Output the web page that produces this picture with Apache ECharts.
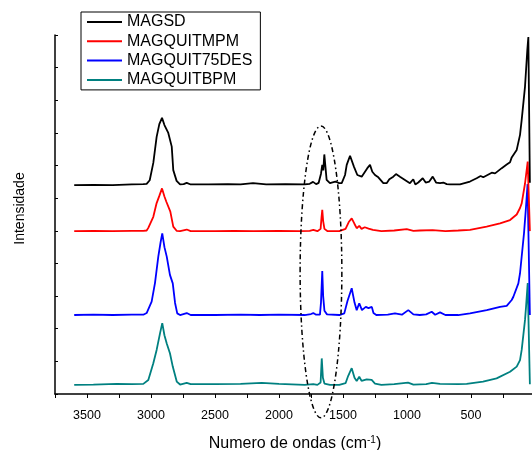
<!DOCTYPE html>
<html><head><meta charset="utf-8">
<script src="https://cdn.jsdelivr.net/npm/echarts@6/dist/echarts.min.js"></script>
<style>html,body{margin:0;padding:0;background:#fff}#c{width:532px;height:450px}</style>
</head><body><div id="c"></div>
<script>
const FONT = 'Liberation Sans, Arial, Helvetica, sans-serif';
const seriesNames = ['MAGSD', 'MAGQUITMPM', 'MAGQUIT75DES', 'MAGQUITBPM'];
const seriesColors = ['#000000', '#ff0000', '#0000ff', '#008080'];
const xTickLabels = [3500, 3000, 2500, 2000, 1500, 1000, 500];

// [wavenumber (cm-1), intensity (offset, arbitrary units)]
const magsd = [[3600,64.0],[3450,64.1],[3300,64.0],[3150,64.2],[3060,64.3],[3034,64.4],[3010,65.5],[2982,70.8],[2956,78.8],[2935,82.7],[2914,84.6],[2895,82.4],[2865,80.0],[2838,75.8],[2826,68.6],[2800,65.3],[2773,64.2],[2745,64.3],[2721,64.7],[2690,64.2],[2550,64.2],[2400,64.3],[2300,64.2],[2203,64.6],[2100,64.2],[1950,64.3],[1800,64.2],[1760,64.4],[1734,65.0],[1710,64.3],[1690,64.7],[1672,67.5],[1662,70.2],[1654,68.5],[1646,73.4],[1638,70.0],[1628,65.6],[1602,64.6],[1560,65.1],[1530,64.6],[1510,64.6],[1484,67.1],[1471,70.2],[1445,73.0],[1414,69.6],[1388,67.1],[1354,66.6],[1341,67.1],[1310,69.2],[1289,70.2],[1271,68.1],[1250,67.1],[1224,66.4],[1211,66.8],[1185,64.6],[1159,64.6],[1138,65.8],[1107,66.6],[1086,67.4],[1055,66.6],[1016,65.6],[977,64.6],[951,65.8],[935,64.2],[912,64.8],[877,66.1],[854,64.8],[826,65.1],[799,66.6],[773,64.8],[742,64.6],[716,64.8],[690,64.3],[664,64.2],[586,64.2],[508,65.1],[456,66.1],[425,66.8],[404,66.4],[338,67.8],[312,67.6],[260,69.2],[221,70.3],[195,71.0],[182,72.5],[160,73.8],[143,74.8],[117,79.4],[104,84.0],[78,94.2],[60,105.4],[52,109.4],[40,64.7]];
const magquitmpm = [[3600,49.9],[3450,50.0],[3300,49.9],[3150,50.0],[3060,50.0],[3034,50.1],[3021,50.9],[2982,54.3],[2956,58.5],[2935,60.7],[2914,63.0],[2895,60.5],[2880,58.9],[2849,55.9],[2826,51.3],[2800,50.0],[2773,49.9],[2721,50.4],[2690,49.9],[2500,49.9],[2350,50.0],[2200,49.9],[2000,50.0],[1850,49.9],[1760,50.0],[1732,50.3],[1700,49.9],[1675,50.6],[1668,54.0],[1662,56.4],[1655,53.0],[1645,50.6],[1620,49.9],[1529,49.9],[1480,50.6],[1455,52.7],[1432,53.8],[1410,52.1],[1393,50.8],[1373,51.5],[1355,50.6],[1330,51.1],[1300,50.7],[1289,51.1],[1266,50.3],[1200,49.9],[1100,50.1],[1002,50.5],[950,50.0],[900,50.1],[800,50.2],[700,49.9],[600,50.1],[508,50.3],[378,51.3],[273,52.3],[195,53.3],[143,55.0],[117,57.0],[104,58.4],[78,64.5],[57,71.2],[40,49.9]];
const magquit75des = [[3600,24.2],[3450,24.3],[3300,24.2],[3150,24.3],[3060,24.3],[3034,24.8],[2995,28.3],[2969,34.0],[2943,42.1],[2925,46.5],[2912,49.2],[2895,45.0],[2877,42.1],[2852,36.5],[2830,33.9],[2812,27.9],[2795,24.7],[2773,24.2],[2721,24.8],[2690,24.2],[2500,24.2],[2300,24.3],[2150,24.2],[2000,24.3],[1800,24.2],[1750,24.5],[1732,24.8],[1710,24.3],[1680,24.3],[1672,28.0],[1662,37.7],[1655,30.0],[1645,25.5],[1625,24.4],[1529,24.2],[1490,24.7],[1465,28.5],[1432,32.4],[1410,28.0],[1393,25.7],[1373,27.8],[1352,25.7],[1322,26.7],[1301,26.3],[1275,26.7],[1262,24.8],[1240,24.2],[1150,24.3],[1094,24.7],[1040,24.3],[990,25.7],[950,24.4],[900,24.2],[850,24.4],[807,25.2],[780,24.3],[742,25.0],[700,24.2],[600,24.2],[508,24.7],[377,25.7],[273,26.7],[221,27.0],[182,28.8],[169,29.8],[130,33.9],[117,37.0],[86,49.2],[70,57.4],[58,64.3],[40,24.2]];
const magquitbpm = [[3600,2.8],[3450,2.9],[3268,3.1],[3150,3.0],[3060,3.1],[3021,4.3],[2982,9.4],[2956,13.5],[2930,18.5],[2912,21.7],[2895,18.0],[2877,15.5],[2852,12.5],[2830,8.4],[2799,3.8],[2773,2.9],[2721,3.4],[2690,3.0],[2500,3.0],[2300,3.1],[2135,3.4],[2000,3.1],[1800,2.8],[1732,3.0],[1700,2.8],[1675,3.5],[1666,10.9],[1657,5.0],[1645,3.2],[1602,2.8],[1529,2.8],[1480,3.3],[1460,5.5],[1432,7.9],[1410,5.0],[1393,4.0],[1373,5.3],[1355,4.0],[1315,4.5],[1276,4.3],[1250,3.2],[1200,2.8],[1100,3.0],[992,3.5],[950,2.9],[850,3.0],[805,3.4],[742,3.1],[600,3.0],[534,3.1],[406,3.8],[300,4.8],[195,6.8],[143,8.4],[117,10.4],[104,13.5],[78,22.7],[70,26.7],[57,34.0],[40,3.0]];
const seriesData = [magsd, magquitmpm, magquit75des, magquitbpm];

// dash-dot ellipse annotation around the ~1660 cm-1 band (data units)
const ellipseCenter = [1672, 37.4];
const ellipseHalfWidth = 163;
const ellipseHalfHeight = 44.7;

const chart = echarts.init(document.getElementById('c'), null, {renderer: 'canvas'});
chart.setOption({
  animation: false,
  backgroundColor: '#fff',
  textStyle: {fontFamily: FONT},
  grid: {left: 55, right: -3, top: 35, bottom: 56, containLabel: false, outerBoundsMode: 'none'},
  legend: {
    orient: 'vertical', left: 81, top: 12,
    itemWidth: 35, itemHeight: 14, itemGap: 3.3,
    padding: [2, 8, 2, 5],
    borderColor: '#000', borderWidth: 1,
    itemStyle: {opacity: 0},
    lineStyle: {width: 2},
    textStyle: {fontSize: 16, color: '#000', fontFamily: FONT},
    data: seriesNames
  },
  xAxis: {
    type: 'value', inverse: true, min: 0, max: 3750, interval: 500,
    axisLine: {show: true, onZero: false, lineStyle: {color: '#000', width: 1.5}},
    axisTick: {show: true, length: 4, lineStyle: {color: '#000', width: 1}},
    minorTick: {show: true, splitNumber: 2, length: 4, lineStyle: {color: '#000', width: 1}},
    splitLine: {show: false},
    axisLabel: {color: '#000', fontSize: 12.5, margin: 15, fontFamily: FONT,
      formatter: v => xTickLabels.includes(v) ? String(v) : ''},
    name: 'Numero de ondas (cm{sup|-1})',
    nameLocation: 'middle', nameGap: 41,
    nameTextStyle: {color: '#000', fontSize: 16, fontFamily: FONT,
      rich: {sup: {fontSize: 10, fontFamily: FONT, color: '#000', verticalAlign: 'top', padding: [0, 0, 8, 0]}}}
  },
  yAxis: {
    type: 'value', min: 0, max: 110, interval: 10,
    axisLine: {show: true, onZero: false, lineStyle: {color: '#000', width: 1.5}},
    axisTick: {show: true, inside: true, length: 3, lineStyle: {color: '#000'}},
    axisLabel: {show: false},
    splitLine: {show: false},
    name: 'Intensidade', nameLocation: 'middle', nameGap: 28,
    nameTextStyle: {color: '#000', fontSize: 14, fontFamily: FONT, padding: [0, 0, 0, 12]}
  },
  series: seriesNames.map((n, i) => ({
    name: n, type: 'line', data: seriesData[i],
    showSymbol: false, symbol: 'none',
    color: seriesColors[i],
    lineStyle: {color: seriesColors[i], width: 1.8},
    z: 10 - i
  }))
});

const c = chart.convertToPixel({gridIndex: 0}, ellipseCenter);
const e = chart.convertToPixel({gridIndex: 0}, [ellipseCenter[0] - ellipseHalfWidth, ellipseCenter[1] + ellipseHalfHeight]);
chart.setOption({
  graphic: [{
    type: 'ellipse', z: 100,
    shape: {cx: c[0], cy: c[1], rx: Math.abs(e[0] - c[0]), ry: Math.abs(e[1] - c[1])},
    style: {fill: 'none', stroke: '#000', lineWidth: 1.5, lineDash: [5, 3, 1.5, 3]}
  }]
});
</script></body></html>
